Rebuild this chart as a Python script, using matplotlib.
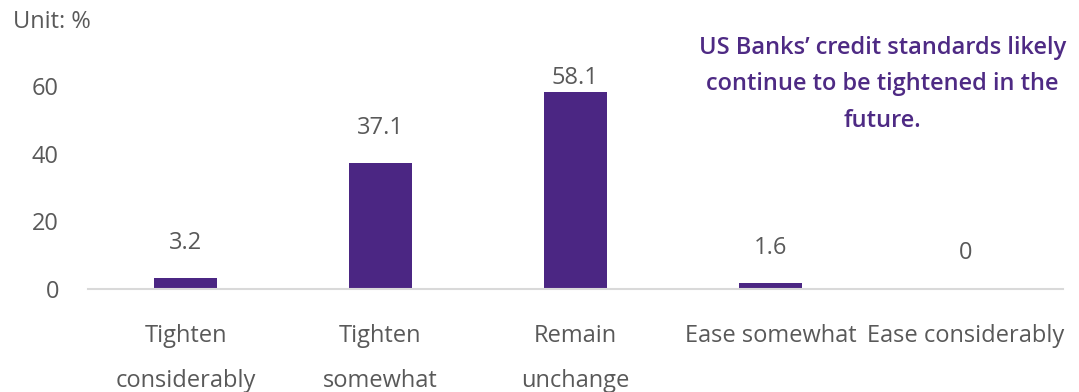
import matplotlib.pyplot as plt

# Survey responses: expected change in credit standards
categories = ['Tighten\nconsiderably', 'Tighten\nsomewhat', 'Remain\nunchange',
              'Ease somewhat', 'Ease considerably']
shares = [3.2, 37.1, 58.1, 1.6, 0]
y_ticks = [0, 20, 40, 60]

BAR_COLOR = '#4B2683'
TEXT_COLOR = '#595959'
NOTE_COLOR = '#4E2A84'
FS = 17

plt.rcParams['font.family'] = ['Open Sans', 'DejaVu Sans']

fig = plt.figure(figsize=(10.79, 3.92), dpi=100)
ax = fig.add_axes([0.0816, 0.263, 0.9034, 0.604])

x = range(len(categories))
ax.bar(x, shares, width=0.32, color=BAR_COLOR, zorder=2)

# value labels above each bar, kept inside the plot area
for i, v in zip(x, shares):
    label = f'{v:g}' if v != 0 else '0'
    ax.text(i, min(v + 10.5, 62.4), label, ha='center', va='center',
            fontsize=FS, color=TEXT_COLOR)

ax.set_xlim(-0.5, len(categories) - 0.5)
ax.set_ylim(0, 70)
ax.set_yticks(y_ticks)
ax.set_xticks(list(x))
ax.set_xticklabels(categories, linespacing=2.16)

for side in ['top', 'right', 'left']:
    ax.spines[side].set_visible(False)
ax.spines['bottom'].set_color('#D9D9D9')
ax.spines['bottom'].set_linewidth(1.5)

ax.tick_params(axis='both', length=0, labelsize=FS, labelcolor=TEXT_COLOR)
ax.tick_params(axis='y', pad=21)
ax.tick_params(axis='x', pad=25)

fig.text(0.012, 0.945, 'Unit: %', fontsize=FS, color=TEXT_COLOR, va='center')

fig.text(0.818, 0.785, 'US Banks\u2019 credit standards likely\n'
         'continue to be tightened in the\nfuture.',
         ha='center', va='center', fontsize=FS, fontweight=600,
         color=NOTE_COLOR, linespacing=1.7)

fig.savefig('out.png', dpi=100)
